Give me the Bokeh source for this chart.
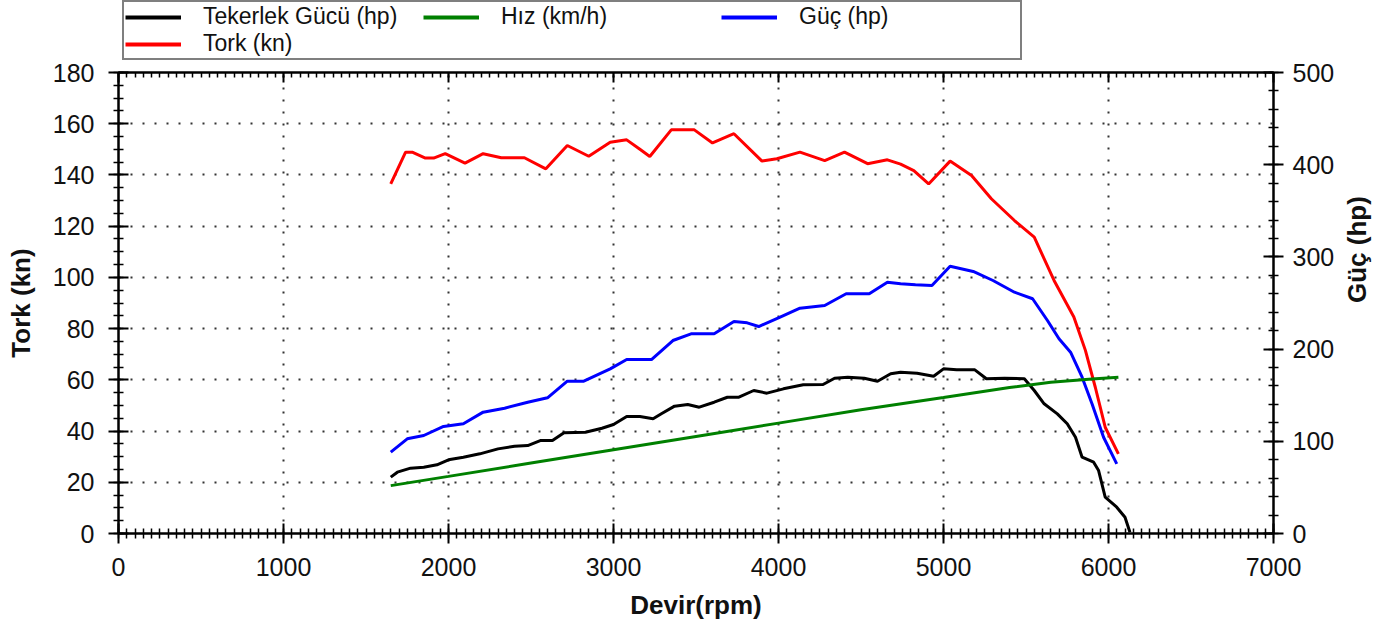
import math
from bokeh.plotting import figure
from bokeh.layouts import column
from bokeh.models import Range1d, LinearAxis, SingleIntervalTicker, Legend, LegendItem
from bokeh.embed import file_html
from bokeh.resources import INLINE

FONT = "Liberation Sans"

# ---------------- data ----------------
tork_rpm = [1650, 1740, 1780, 1860, 1910, 1980, 2100, 2210, 2320, 2460, 2590, 2720, 2850, 2980,
            3080, 3160, 3220, 3350, 3490, 3600, 3730, 3900, 3990, 4130, 4280, 4400, 4540, 4660,
            4740, 4820, 4910, 5040, 5170, 5290, 5430, 5550, 5670, 5790, 5860, 5920, 5980, 6060]
tork_kn = [136.5, 148.9, 148.9, 146.6, 146.6, 148.3, 144.6, 148.3, 146.7, 146.7, 142.4, 151.5,
           147.3, 152.8, 153.7, 150.0, 147.2, 157.6, 157.6, 152.5, 156.1, 145.4, 146.3, 148.9,
           145.6, 148.9, 144.4, 145.9, 144.2, 141.7, 136.5, 145.4, 139.8, 130.7, 122.2, 115.7,
           98.8, 84.5, 71.5, 57.1, 41.5, 31.1]

guc_rpm = [1650, 1750, 1850, 1970, 2090, 2210, 2340, 2480, 2600, 2720, 2820, 2980, 3080, 3160,
           3230, 3360, 3470, 3610, 3730, 3810, 3880, 4010, 4130, 4280, 4410, 4550, 4660, 4740,
           4830, 4930, 5040, 5180, 5300, 5430, 5540, 5630, 5700, 5770, 5840, 5900, 5970, 6050]
guc_hp = [88.2, 102.7, 106.3, 116.1, 119.0, 131.6, 135.9, 142.4, 147.2, 165.2, 165.2, 178.6,
          188.7, 188.7, 188.7, 209.3, 216.6, 216.6, 229.9, 228.5, 224.5, 234.6, 244.4, 247.3,
          260.0, 260.0, 272.6, 270.8, 269.7, 269.0, 289.9, 284.2, 274.4, 261.7, 254.6, 231.0,
          211.2, 196.6, 169.5, 140.7, 104.4, 75.6]

teker_rpm = [1650, 1690, 1770, 1850, 1930, 2000, 2090, 2190, 2300, 2400, 2480, 2560, 2630, 2700,
             2830, 2930, 3000, 3080, 3160, 3240, 3290, 3370, 3450, 3520, 3610, 3690, 3760, 3850,
             3930, 4030, 4150, 4270, 4340, 4420, 4520, 4600, 4680, 4740, 4840, 4940, 5000, 5080,
             5190, 5260, 5370, 5490, 5550, 5610, 5690, 5750, 5800, 5840, 5910, 5940, 5980, 6050,
             6100, 6130]
teker_hp = [61.1, 66.5, 70.9, 71.9, 74.5, 79.9, 82.8, 86.4, 91.8, 94.7, 95.4, 100.9, 100.9, 109.2,
            109.9, 114.2, 118.2, 126.9, 126.9, 124.4, 129.8, 138.1, 139.9, 137.0, 142.4, 147.8,
            147.8, 155.1, 152.2, 156.9, 161.3, 161.6, 168.4, 169.5, 168.4, 165.2, 173.2, 175.0,
            173.9, 170.6, 178.6, 177.5, 177.5, 167.8, 168.4, 167.8, 155.1, 140.7, 129.8, 119.0,
            104.4, 82.8, 77.3, 68.3, 39.4, 28.5, 17.7, 1.4]

hiz_rpm = [1650, 2000, 2500, 3000, 3500, 4000, 4500, 5000, 5400, 5650, 5900, 6060]
hiz_kmh = [18.7, 22.3, 27.5, 32.7, 37.9, 43.1, 48.3, 53.1, 57.0, 59.1, 60.3, 61.0]

labels = ["Tekerlek Gücü (hp)", "Hız (km/h)", "Güç (hp)", "Tork (kn)"]
colors = ["#000000", "#008000", "#0000ff", "#ff0000"]

W = 1394
LEG_H = 60

# ---------------- main figure ----------------
p = figure(width=W, height=626 - LEG_H, x_range=Range1d(0, 7000), y_range=Range1d(0, 180),
           output_backend="svg", toolbar_location=None,
           min_border_left=118, min_border_right=121, min_border_top=72 - LEG_H,
           min_border_bottom=93)
p.extra_y_ranges = {"hp": Range1d(0, 500)}
p.background_fill_color = "white"
p.border_fill_color = "white"
p.outline_line_color = "black"
p.outline_line_width = 2

xt = SingleIntervalTicker(interval=1000, num_minor_ticks=20)
yt = SingleIntervalTicker(interval=20, num_minor_ticks=4)
rt = SingleIntervalTicker(interval=100, num_minor_ticks=5)


def style(ax, tin=10, tout=10, mtin=5, mtout=5):
    ax.axis_line_color = "black"
    ax.axis_line_width = 2
    ax.major_tick_line_color = "black"
    ax.major_tick_line_width = 2
    ax.minor_tick_line_color = "black"
    ax.minor_tick_line_width = 1.5
    ax.major_tick_in = tin
    ax.major_tick_out = tout
    ax.minor_tick_in = mtin
    ax.minor_tick_out = mtout
    ax.major_label_text_font = FONT
    ax.major_label_text_font_size = "25px"
    ax.major_label_text_color = "#111111"
    ax.axis_label_text_font = FONT
    ax.axis_label_text_font_style = "bold"
    ax.axis_label_text_font_size = "26px"
    ax.axis_label_text_color = "#111111"


xa = p.xaxis[0]
xa.ticker = xt
xa.axis_label = "Devir(rpm)"
style(xa)
xa.major_label_standoff = 14
xa.axis_label_standoff = 11

ya = p.yaxis[0]
ya.ticker = yt
ya.axis_label = "Tork (kn)"
style(ya)
ya.major_label_standoff = 14
ya.axis_label_standoff = 14

ra = LinearAxis(y_range_name="hp", ticker=rt, axis_label="Güç (hp)")
style(ra)
ra.major_label_standoff = 9
ra.axis_label_standoff = 20
ra.axis_label_orientation = math.pi / 2
p.add_layout(ra, "right")

ta = LinearAxis(ticker=xt)
style(ta, tin=10, tout=0, mtin=5, mtout=0)
ta.major_label_overrides = {v: "" for v in range(0, 7001, 1000)}
ta.major_label_text_font_size = "1px"
ta.major_label_standoff = 0
p.add_layout(ta, "above")

p.xgrid.ticker = xt
p.ygrid.ticker = yt
for g in (p.xgrid[0], p.ygrid[0]):
    g.grid_line_color = "#333333"
    g.grid_line_width = 2
    g.grid_line_dash = "2 10"

p.line(guc_rpm, guc_hp, y_range_name="hp", line_color=colors[2], line_width=3)
p.line(tork_rpm, tork_kn, line_color=colors[3], line_width=3)
p.line(teker_rpm, teker_hp, y_range_name="hp", line_color=colors[0], line_width=3)
p.line(hiz_rpm, hiz_kmh, line_color=colors[1], line_width=3)

# ---------------- legend strip ----------------
lf = figure(width=W, height=LEG_H, x_range=Range1d(0, 1), y_range=Range1d(0, 1),
            output_backend="svg", toolbar_location=None, x_axis_type=None, y_axis_type=None,
            min_border=0, min_border_left=0, min_border_right=0, min_border_top=0,
            min_border_bottom=0)
lf.outline_line_color = None
lf.grid.visible = False
lf.background_fill_color = "white"
lf.border_fill_color = "white"

items = []
for lab, col in zip(labels, colors):
    # legend swatches only: the points lie outside the strip's visible range
    r = lf.line(x=[-5, -4], y=[-5, -4], line_color=col, line_width=4)
    items.append(LegendItem(label=lab, renderers=[r]))

legend = Legend(items=items, location=(4, 0), orientation="horizontal", ncols=3)
legend.label_text_font = FONT
legend.label_text_font_size = "23px"
legend.label_text_color = "#111111"
legend.glyph_width = 56
legend.glyph_height = 24
legend.label_standoff = 22
legend.label_width = 220
legend.label_height = 24
legend.spacing = 0
legend.padding = 1
legend.margin = 0
legend.border_line_color = "black"
legend.border_line_width = 2
legend.background_fill_color = "white"
legend.background_fill_alpha = 1
lf.add_layout(legend)

layout = column(lf, p, spacing=0)
open("out.html", "w").write(file_html(layout, INLINE))
